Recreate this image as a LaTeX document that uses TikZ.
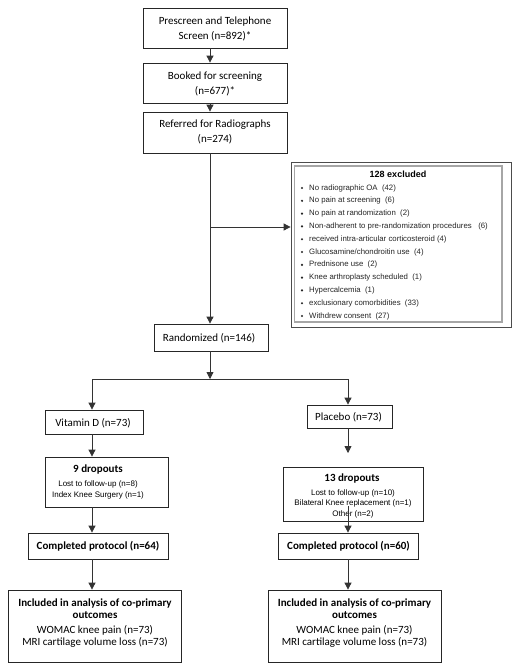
\documentclass[tikz,border=0pt]{standalone}
\usepackage{fontspec}
\setmainfont{Carlito}
\newfontfamily\arialf{Liberation Sans}
\usetikzlibrary{arrows.meta,fit}
\begin{document}
\begin{tikzpicture}[x=1pt,y=-1pt,
  box/.style={draw=black!85, line width=0.8pt, inner sep=0pt, fill=white},
  txt/.style={inner sep=0pt, align=center, font=\fontsize{11}{15}\selectfont},
  btxt/.style={inner sep=0pt, align=center, font=\fontsize{11}{12}\selectfont\bfseries},
  stxt/.style={inner sep=0pt, align=center, font=\arialf\fontsize{8}{11}\selectfont},
  exitem/.style={inner sep=0pt, anchor=west, font=\arialf\fontsize{7.8}{9}\selectfont, text=black!85},
  conn/.style={draw=black!80, line width=0.8pt},
  arr/.style={conn, -{Triangle[length=7pt,width=7pt]}}]
\useasboundingbox (0,0) rectangle (519,672);
\fill[white] (0,0) rectangle (519,672);

% axes for connectors
\coordinate (ax) at (210,0);
\coordinate (lx) at (92,0);
\coordinate (rx) at (348,0);

% top chain
\node[box, fit={(143,8) (287,48)}] (b1) {};
\node[txt] (t1) at (215,28.5) {Prescreen and Telephone\\Screen (n=892)*};
\node[box, fit={(143,63) (287,103)}] (b2) {};
\node[txt] (t2) at (215,83.5) {Booked for screening\\(n=677)*};
\node[box, fit={(143,112) (287,153)}] (b3) {};
\node[txt] (t3) at (215,132) {Referred for Radiographs\\(n=274)};
\node[box, fit={(154,324) (268,351)}] (rand) {};
\node[txt] (trand) at (209,338) {Randomized (n=146)};

% excluded box
\node[draw=black!70, line width=0.8pt, inner sep=0pt, fit={(291,162) (511,327)}] (ex) {};
\node[draw=black!35, line width=1.4pt, inner sep=0pt, fit={(294.5,166) (502,322)}] (exin) {};
\node[inner sep=0pt, font=\arialf\fontsize{9}{11}\selectfont\bfseries] (extitle) at (398,174) {128 excluded};
\foreach \t [count=\i from 0] in {%
  {No radiographic OA~ (42)},
  {No pain at screening~ (6)},
  {No pain at randomization~ (2)},
  {Non-adherent to pre-randomization procedures~~ (6)},
  {received intra-articular corticosteroid (4)},
  {Glucosamine/chondroitin use~ (4)},
  {Prednisone use~ (2)},
  {Knee arthroplasty scheduled~ (1)},
  {Hypercalcemia~ (1)},
  {exclusionary comorbidities~ (33)},
  {Withdrew consent~ (27)}} {
  \fill[black!85] (302,{188+12.8*\i}) circle (1.2pt);
  \node[exitem] (it\i) at (309,{188+12.8*\i}) {\t};
}

% arms
\node[box, fit={(45,410) (143,434)}] (vit) {};
\node[txt] (tvit) at (93,423) {Vitamin D (n=73)};
\node[box, fit={(307,405) (392,428)}] (plc) {};
\node[txt] (tplc) at (348.5,417) {Placebo (n=73)};

\node[box, fit={(45,457) (168,507)}] (ld) {};
\node[btxt] (ldt) at (98,469.5) {9 dropouts};
\node[stxt] (lds) at (98,489.5) {Lost to follow-up (n=8)\\Index Knee Surgery (n=1)};

\node[box, fit={(283,467) (423,521)}] (rd) {};
\node[btxt] (rdt) at (352,478.5) {13 dropouts};
\node[stxt, font=\arialf\fontsize{8}{10.5}\selectfont] (rds) at (353,503.5) {Lost to follow-up (n=10)\\Bilateral Knee replacement (n=1)\\Other (n=2)};

\node[box, fit={(28,533) (168,559)}] (lc) {};
\node[btxt] (lct) at (98,546) {Completed protocol (n=64)};
\node[box, fit={(278,533) (418,559)}] (rc) {};
\node[btxt] (rct) at (348.5,546) {Completed protocol (n=60)};

\node[box, fit={(8,590) (181,662)}] (li) {};
\node[btxt] (lib) at (95,609) {Included in analysis of co-primary\\outcomes};
\node[txt, font=\fontsize{11}{12}\selectfont] (lin) at (95,636) {WOMAC knee pain (n=73)\\MRI cartilage volume loss (n=73)};
\node[box, fit={(268,590) (441,662)}] (ri) {};
\node[btxt] (rib) at (354.5,609) {Included in analysis of co-primary\\outcomes};
\node[txt, font=\fontsize{11}{12}\selectfont] (rin) at (354.5,636) {WOMAC knee pain (n=73)\\MRI cartilage volume loss (n=73)};

% connectors
\draw[arr] (b1.south -| ax) -- (b2.north -| ax);
\draw[arr] (b2.south -| ax) -- (b3.north -| ax);
\draw[arr] (b3.south -| ax) -- (rand.north -| ax);
\coordinate (hj) at (210,227);
\draw[arr] (hj) -- (hj -| ex.west);
\coordinate (sp) at (210,379);
\draw[arr] (rand.south -| ax) -- (sp);
\draw[conn] (sp -| lx) -- (sp -| rx);
\draw[arr] (sp -| lx) -- (vit.north -| lx);
\draw[arr] (sp -| rx) -- (plc.north -| rx);

\draw[arr] (vit.south -| lx) -- (ld.north -| lx);
\draw[arr] (ld.south -| lx) -- (lc.north -| lx);
\draw[arr] (lc.south -| lx) -- (li.north -| lx);

\coordinate (pt) at (348,453);
\draw[arr] (plc.south -| rx) -- (pt);
\coordinate (ps) at (348,506);
\draw[arr] (ps) -- (rc.north -| rx);
\draw[arr] (rc.south -| rx) -- (ri.north -| rx);
\end{tikzpicture}
\end{document}
